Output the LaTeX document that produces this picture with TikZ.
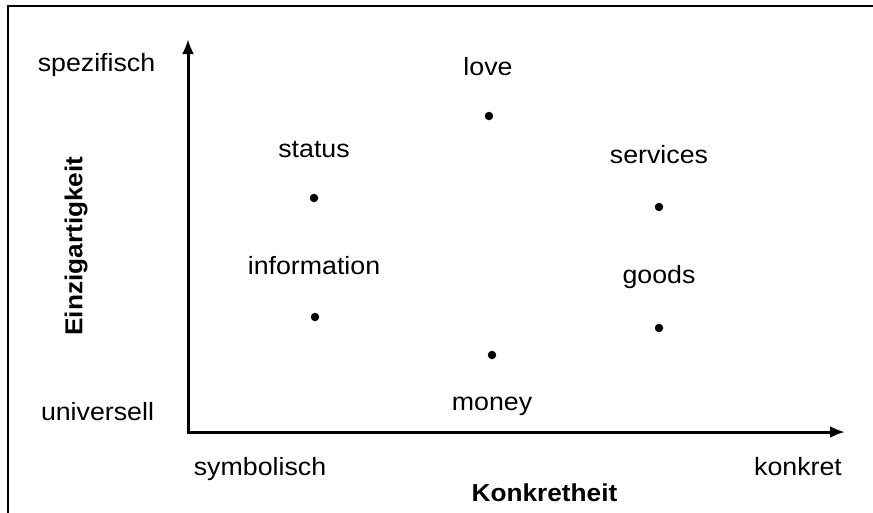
\documentclass[tikz,border=0pt]{standalone}
\usepackage{fontspec}
\setmainfont{Liberation Sans}[FakeStretch=1.07]
\usetikzlibrary{arrows.meta}
\tikzset{
  lbl/.style={anchor=base, inner sep=0pt, font=\fontsize{25}{29}\selectfont},
  bold lbl/.style={lbl, font=\fontsize{24.5}{29}\selectfont\bfseries},
  axis/.style={line width=3pt, -{Latex[length=15pt,width=12pt]}},
  pt/.style={circle, fill=black, inner sep=0pt, minimum size=8.5pt},
}
\begin{document}
\begin{tikzpicture}[x=1pt,y=-1pt]
\useasboundingbox (0,0) rectangle (873,512);
\clip (0,0) rectangle (873,512);
\draw[line width=2pt] (8,5.5) rectangle (900,540);
% axes
\coordinate (o) at (188,432);
\coordinate (ytip) at (188,39);
\coordinate (xtip) at (845,432);
\draw[axis] ([yshift=1.5pt]o) -- (ytip);
\draw[axis] ([xshift=-1.5pt]o) -- (xtip);
% axis labels
\node[lbl] (spez) at (96.5,71.7) {spezifisch};
\node[lbl] (univ) at (97.5,420) {universell};
\node[lbl] (symb) at (260,475) {symbolisch};
\node[lbl] (konk) at (798,475) {konkret};
\node[bold lbl] (kh) at (544.5,501.7) {Konkretheit};
\node[bold lbl, rotate=90] (ez) at (82.3,246) {Einzigartigkeit};
% points
\node[lbl] (love) at (488,75) {love};
\node[pt] (plove) at (489,116) {};
\node[lbl] (status) at (314,157) {status};
\node[pt] (pstatus) at (314,198) {};
\node[lbl] (services) at (659,163) {services};
\node[pt] (pservices) at (659,207) {};
\node[lbl] (info) at (314,274.3) {information};
\node[pt] (pinfo) at (315,317) {};
\node[lbl] (goods) at (659,283) {goods};
\node[pt] (pgoods) at (659,328) {};
\node[pt] (pmoney) at (492,355) {};
\node[lbl] (money) at (492,410) {money};
\end{tikzpicture}
\end{document}
